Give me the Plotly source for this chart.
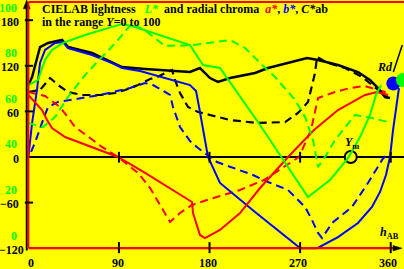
import plotly.graph_objects as go

# ---------------- data (hue angle h_AB in degrees) ----------------
# C*ab solid (black)
h_C1 = [0, 3.7, 11.6, 19.6, 33.5, 39.5, 63.3, 83.1, 93.1, 116, 160.6, 170.5, 180.5, 188.4,
        200.4, 225.2, 238.1, 276.9, 287.8, 307.6, 327.5, 339.4, 347.4, 354.3, 359.3]
C1 = [94.7, 105.3, 144.7, 150, 154, 144.7, 136.8, 125, 118.4, 115.8, 111.8, 117.1, 103.9, 98.7,
      103.9, 110.5, 117.1, 130.3, 127.6, 121, 111.8, 101.3, 90.8, 78.9, 77.6]
# C*ab dashed (black)
h_C2 = [0, 11.6, 16.6, 21.6, 29.5, 39.4, 53.3, 71.2, 86.1, 96.1, 109, 120.9, 127.9, 142.7, 145.7,
        150.7, 158.6, 168.6, 180.5, 200.4, 227.2, 255, 267.9, 277.8, 284.8, 286.8, 297.7, 314.6,
        331.5, 341.4, 349.4, 357.4]
C2 = [85.5, 88.2, 96, 104, 94.7, 85.5, 81.6, 81.6, 84.2, 88.2, 94.7, 102.6, 105.3, 114.5, 101.3,
      84.2, 65.8, 59.2, 55.3, 48.7, 44.7, 46, 57.9, 72.4, 110.5, 131.6, 123.7, 117.1,
      105.3, 94.7, 85.5, 77.6]
# b* solid (blue)
h_b1 = [0, 3.7, 8.6, 11.6, 16.6, 26.5, 34.5, 39.4, 63.3, 83.1, 93.1, 111, 160.6, 166.6, 169.6,
        174.5, 178.5, 190.4, 210.3, 225.2, 270.2, 287, 307.6, 327.5, 341.4, 349.4, 355.3, 359.3,
        362.3, 368.2]
b1 = [0, 44.7, 88.2, 123.7, 140.8, 150, 151.3, 143.4, 134.2, 123.7, 117.1, 113.2, 94.7, 86.8, 65.8,
      28.9, 0, -34.2, -56.6, -72.4, -120, -120, -105.3, -86.8, -65.8, -46, -23.7, 0,
      35.5, 90.8]
# b* dashed (blue)
h_b2 = [2.7, 7.6, 14.6, 19.6, 29.5, 51.4, 71.2, 101, 115.9, 123.9, 135.8, 140.8, 143.7, 150.7,
        160.6, 168.6, 187.4, 203.4, 223.2, 238.1, 258, 274.9, 281.8, 287.8, 291.8, 301.7, 321.5,
        337.4, 351.4, 357.4]
b2 = [6.6, 22.4, 48.7, 65.8, 72.4, 77.6, 81.6, 90.8, 97.4, 94.7, 85.5, 81.6, 65.8, 39.5,
      21, 11.8, -6.6, -14.5, -23.7, -32.9, -43.4, -65.8, -82.9, -100, -106.6, -86.8, -65.8,
      -34.2, -3.9, 5.3]
# a* solid (red)
h_a1 = [0, 6.7, 13.6, 18.6, 23.5, 36.5, 63.3, 89.1, 116, 162.6, 163.6, 170.5, 175.5, 190.4,
        210.3, 230.2, 258, 283.8, 307.6, 334.5, 346.4, 357.4]
a1 = [81.6, 72.4, 61.8, 48.7, 38.2, 26.3, 13.2, 0, -21, -59.2, -73.7, -102.6, -106.6, -96,
      -73.7, -40.8, 0, 35.5, 61.8, 81.6, 85.5, 81.6]
# a* dashed (red)
h_a2 = [0, 16.6, 31.5, 46.4, 61.3, 73.2, 89.1, 109, 120.9, 130.8, 140.8, 150.7, 162.6, 177.5,
        193.4, 210.3, 234.1, 268.9, 280.8, 287.8, 304.7, 319.6, 334.5, 347.4, 357.4]
a2 = [85.5, 80.3, 65.8, 39.5, 25, 13.2, 0, -21, -40.8, -63.2, -85.5, -73.7, -63.2, -56.6,
      -50, -43.4, -30.3, 0, 35.5, 77.6, 85.5, 90.8, 93.4, 88.2, 84.2]
# L* solid (green, lightness scale)
h_L1 = [0, 9.6, 16.6, 23.5, 34.5, 56.3, 79.2, 93.1, 106, 160.6, 173.5, 190.4, 230.2, 277.8,
        299.7, 317.6, 329.5, 339.4, 345.4, 350.4]
L1 = [66.4, 68.6, 77.4, 81.8, 84.9, 88.4, 91.4, 93.2, 91.9, 84, 75.2, 73.9, 48.9, 17.3,
      24.8, 34.4, 43.6, 53.3, 62.1, 66.4]
# L* dashed (green)
h_L2 = [0, 14.6, 26.5, 39.4, 56.3, 73.2, 89.1, 103.1, 118, 135.8, 163.9, 200.4, 215.3, 230.2,
        245.1, 265, 274.9, 282.8, 287.8, 294.8, 304.7, 324.5, 341.4, 357.4]
L2 = [49.8, 48, 52.4, 61.2, 70.8, 78.7, 86.2, 93.6, 89.7, 83.6, 84, 86.2, 82.7, 76.1,
      70, 59.9, 52.4, 42.3, 30.5, 34.9, 42.3, 53.3, 52, 50.2]

# special points
h_Ym, c_Ym = [320.3], [0]
h_blue_dot, c_blue_dot = [362.6], [96.8]
h_green_dot, L_green_dot = [372.2], [68.6]

x_ticks = [0, 90, 180, 270, 360]
c_ticks = [180, 120, 60, 0, -60, -120]
c_tick_text = ["180", "120", "60", "0", "\u221260", "\u2212120"]
L_ticks = [100, 80, 60, 40, 20, 0]

# ---------------- styling ----------------
YEL = "#ffff00"
GRN = "#00ff00"
RED = "#ff0000"
BLU = "#0000ff"
BLK = "#000000"
FONT = "Liberation Serif"
DASH = "8px,5px"

X_RANGE = [-6.3, 373.2]
Y_RANGE = [-131.58, 206.58]
L_RANGE = [(Y_RANGE[0] + 104.6) / 3.0, (Y_RANGE[1] + 104.6) / 3.0]

fig = go.Figure()


def line(x, y, color, dash=None, width=2, axis="y"):
    fig.add_trace(go.Scatter(x=x, y=y, mode="lines", yaxis=axis, hoverinfo="skip",
                             line=dict(color=color, width=width, dash=dash)))


line(h_C2, C2, BLK, DASH, 2.2)
line(h_b2, b2, BLU, DASH)
line(h_a2, a2, RED, DASH)
line(h_L2, L2, GRN, DASH, axis="y2")
line(h_C1, C1, BLK, None, 2.5)
line(h_b1, b1, BLU)
line(h_a1, a1, RED)
line(h_L1, L1, GRN, axis="y2")

fig.add_trace(go.Scatter(x=h_Ym, y=c_Ym, mode="markers", hoverinfo="skip",
                         marker=dict(size=12, color=YEL, line=dict(color=BLK, width=2))))
fig.add_trace(go.Scatter(x=h_blue_dot, y=c_blue_dot, mode="markers", hoverinfo="skip",
                         marker=dict(size=14, color=BLU, line=dict(width=0))))
fig.add_trace(go.Scatter(x=h_green_dot, y=L_green_dot, mode="markers", yaxis="y2",
                         hoverinfo="skip", marker=dict(size=14, color=GRN, line=dict(width=0))))

shapes = []
# zero line (below curves)
shapes.append(dict(type="line", x0=-1.6, x1=X_RANGE[1], y0=0, y1=0, layer="below",
                   line=dict(color=BLK, width=2)))
# black vertical axis with arrow
shapes.append(dict(type="line", x0=-1.6, x1=-1.6, y0=-123, y1=198,
                   line=dict(color=BLK, width=2)))
shapes.append(dict(type="path", path="M -1.6 206.5 L -5 195 L 1.8 195 Z",
                   fillcolor=BLK, line=dict(color=BLK, width=0.5)))
# red frame
shapes.append(dict(type="line", x0=0, x1=X_RANGE[1], y0=204, y1=204,
                   line=dict(color=RED, width=2)))
shapes.append(dict(type="line", x0=0, x1=0, y0=-120, y1=204,
                   line=dict(color=RED, width=2)))
shapes.append(dict(type="line", x0=0, x1=364, y0=-120, y1=-120,
                   line=dict(color=RED, width=2.2)))
# black arrow at bottom right
shapes.append(dict(type="path", path="M 371.2 -120 L 362.3 -123.6 L 362.3 -116.4 Z",
                   fillcolor=BLK, line=dict(color=BLK, width=0.5)))
# x ticks
for xv in x_ticks[1:]:
    shapes.append(dict(type="line", x0=xv, x1=xv, y0=-7.5, y1=6.8,
                       line=dict(color=BLK, width=2)))
    shapes.append(dict(type="line", x0=xv, x1=xv, y0=-126.5, y1=-112,
                       line=dict(color=BLK, width=2)))
# y ticks
for cv in [180, 120, 60, -60]:
    shapes.append(dict(type="line", x0=-3.5, x1=4.7, y0=cv, y1=cv,
                       line=dict(color=BLK, width=2)))
# small black line at top right
shapes.append(dict(type="line", x0=362.6, x1=371.5, y0=111.8, y1=147.4,
                   line=dict(color=BLK, width=1.5)))

ann = []
for cv, t in zip(c_ticks, c_tick_text):
    ann.append(dict(x=0, xref="paper", y=cv, yref="y", text="<b>%s</b>" % t,
                    showarrow=False, xanchor="right", yanchor="middle",
                    xshift=(3.5 if cv == -120 else -1.5), yshift=-1.5,
                    font=dict(family=FONT, size=12, color=BLK)))
for lv in L_ticks:
    ann.append(dict(x=0, xref="paper", y=lv, yref="y2", text="<b>%d</b>" % lv,
                    showarrow=False, xanchor="right", yanchor="middle",
                    xshift=-3.5, yshift=1,
                    font=dict(family=FONT, size=12, color=GRN)))
x_shift = {0: 3, 90: -0.7, 180: -1.5, 270: -2, 360: -2.7}
for xv in x_ticks:
    ann.append(dict(x=xv, xref="x", y=0, yref="paper", text="<b>%d</b>" % xv,
                    showarrow=False, xanchor="center", yanchor="middle",
                    xshift=x_shift[xv], yshift=-5.5,
                    font=dict(family=FONT, size=12, color=BLK)))

title1 = ("<b>CIELAB lightness&nbsp;&nbsp; <span style='color:%s'><i>L*</i></span>&nbsp; and radial "
          "chroma&nbsp; <span style='color:%s'><i>a*</i></span>, <span style='color:%s'><i>b*</i></span>, "
          "<i>C*</i>ab</b>") % (GRN, RED, BLU)
title2 = "<b>in the range <i>Y</i>=0 to 100</b>"
ann.append(dict(x=11.6, xref="x", y=193.4, yref="y", text=title1, showarrow=False,
                xanchor="left", yanchor="middle", yshift=1,
                font=dict(family=FONT, size=12, color=BLK)))
ann.append(dict(x=11.6, xref="x", y=176.3, yref="y", text=title2, showarrow=False,
                xanchor="left", yanchor="middle", yshift=1,
                font=dict(family=FONT, size=12, color=BLK)))
ann.append(dict(x=322.0, xref="x", y=17.8, yref="y", text="<b><i>Y</i><sub>m</sub></b>",
                showarrow=False, xanchor="center", yanchor="middle",
                font=dict(family=FONT, size=12, color=BLK)))
ann.append(dict(x=358.3, xref="x", y=-100, yref="y", text="<b><i>h</i><sub>AB</sub></b>",
                showarrow=False, xanchor="center", yanchor="middle",
                font=dict(family=FONT, size=12, color=BLK)))
ann.append(dict(x=354.3, xref="x", y=117.8, yref="y", text="<b><i>Rd</i></b>",
                showarrow=False, xanchor="center", yanchor="middle",
                font=dict(family=FONT, size=12, color=BLK)))

fig.update_layout(
    width=404, height=269,
    margin=dict(l=22, r=0, t=0, b=12, pad=0),
    paper_bgcolor=YEL, plot_bgcolor=YEL,
    showlegend=False,
    xaxis=dict(range=X_RANGE, visible=False, fixedrange=True),
    yaxis=dict(range=Y_RANGE, visible=False, fixedrange=True),
    yaxis2=dict(range=L_RANGE, visible=False, overlaying="y", fixedrange=True),
    shapes=shapes, annotations=ann,
)

fig.write_html("out.html", config={"displayModeBar": False},
               post_script="document.body.style.margin='0';document.body.style.padding='0';"
                           "document.body.style.overflow='hidden';")
